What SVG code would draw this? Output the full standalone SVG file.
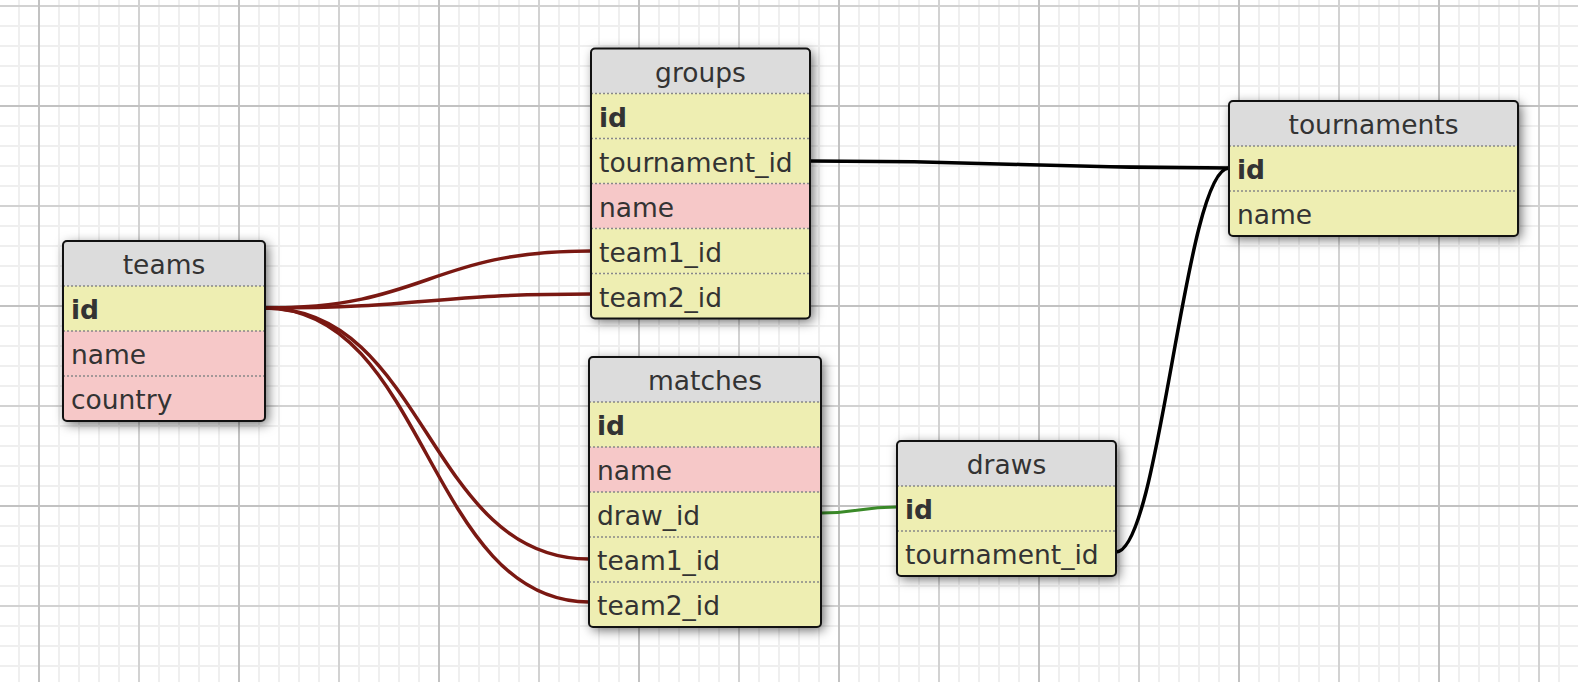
<svg xmlns="http://www.w3.org/2000/svg" width="1578" height="682" viewBox="0 0 1578 682">
<defs>
<pattern id="minor" x="18" y="5" width="20" height="20" patternUnits="userSpaceOnUse"><rect x="0" y="0" width="2" height="20" fill="#efefef"/><rect x="0" y="0" width="20" height="2" fill="#efefef"/></pattern>
<pattern id="major" x="38" y="5" width="100" height="100" patternUnits="userSpaceOnUse"><rect x="0" y="0" width="2" height="100" fill="#d2d2d2"/><rect x="0" y="0" width="100" height="2" fill="#d2d2d2"/></pattern>
<pattern id="extra" x="38" y="105" width="200" height="200" patternUnits="userSpaceOnUse"><rect x="0" y="0" width="2" height="200" fill="#c2c2c2"/><rect x="0" y="0" width="200" height="2" fill="#c2c2c2"/></pattern>
<filter id="shadow" x="-25%" y="-25%" width="150%" height="150%"><feDropShadow dx="3" dy="3" stdDeviation="6" flood-color="#000" flood-opacity="0.6"/></filter>
<clipPath id="c-teams"><rect width="202" height="180" rx="4"/></clipPath>
<clipPath id="c-groups"><rect width="219" height="270" rx="4"/></clipPath>
<clipPath id="c-matches"><rect width="232" height="270" rx="4"/></clipPath>
<clipPath id="c-draws"><rect width="219" height="135" rx="4"/></clipPath>
<clipPath id="c-tour"><rect width="289" height="135" rx="4"/></clipPath>
</defs>
<style>
.bg{fill:#fff}
.hd{fill:#dcdcdc}
.y{fill:#eeeeb2}
.p{fill:#f6c8c8}
.sep{stroke:#888;stroke-width:1.5;stroke-dasharray:2,2}
.frame{fill:none;stroke:#111;stroke-width:2}
.back{fill:#fff;filter:url(#shadow)}
text{font-family:"DejaVu Sans","Liberation Sans",sans-serif;font-size:26.5px;fill:#333}
.title{text-anchor:middle}
.pk{font-weight:bold}
.conn{fill:none;stroke-width:3.5}
.red{stroke:#7a1812}
.blk{stroke:#000}
.grn{stroke:#3a8a28;stroke-width:3}
</style>
<rect class="bg" width="1578" height="682"/>
<rect width="1578" height="682" fill="url(#minor)"/>
<rect width="1578" height="682" fill="url(#major)"/>
<rect width="1578" height="682" fill="url(#extra)"/>

<g id="connectors">
<path class="conn blk" d="M810 161 C1020 161 1020 168 1229 168"/>
<path class="conn blk" d="M1116 552 C1160 552 1185 168 1229 168"/>
<path class="conn grn" d="M821 513 C859 513 859 507 897 507"/>
<path class="conn red" d="M265 308 C428 308 428 251 591 251"/>
<path class="conn red" d="M265 308 C428 308 428 294 591 294"/>
<path class="conn red" d="M265 308 C427 308 427 559 589 559"/>
<path class="conn red" d="M265 308 C427 308 427 602 589 602"/>
</g>

<g id="teams" transform="translate(63,241)">
<rect class="back" width="202" height="180" rx="4"/>
<g clip-path="url(#c-teams)">
<rect class="hd" width="202" height="45"/>
<rect class="y" y="45" width="202" height="45"/>
<rect class="p" y="90" width="202" height="45"/>
<rect class="p" y="135" width="202" height="45"/>
<path class="sep" d="M0 45H202M0 90H202M0 135H202"/>
</g>
<rect class="frame" width="202" height="180" rx="4"/>
<text class="title" x="101" y="33">teams</text>
<text class="pk" x="8" y="78">id</text>
<text x="8" y="123">name</text>
<text x="8" y="168">country</text>
</g>

<g id="groups" transform="translate(591,48.5)">
<rect class="back" width="219" height="270" rx="4"/>
<g clip-path="url(#c-groups)">
<rect class="hd" width="219" height="45"/>
<rect class="y" y="45" width="219" height="45"/>
<rect class="y" y="90" width="219" height="45"/>
<rect class="p" y="135" width="219" height="45"/>
<rect class="y" y="180" width="219" height="45"/>
<rect class="y" y="225" width="219" height="45"/>
<path class="sep" d="M0 45H219M0 90H219M0 135H219M0 180H219M0 225H219"/>
</g>
<rect class="frame" width="219" height="270" rx="4"/>
<text class="title" x="109.5" y="33">groups</text>
<text class="pk" x="8" y="78">id</text>
<text x="8" y="123">tournament_id</text>
<text x="8" y="168">name</text>
<text x="8" y="213">team1_id</text>
<text x="8" y="258">team2_id</text>
</g>

<g id="matches" transform="translate(589,357)">
<rect class="back" width="232" height="270" rx="4"/>
<g clip-path="url(#c-matches)">
<rect class="hd" width="232" height="45"/>
<rect class="y" y="45" width="232" height="45"/>
<rect class="p" y="90" width="232" height="45"/>
<rect class="y" y="135" width="232" height="45"/>
<rect class="y" y="180" width="232" height="45"/>
<rect class="y" y="225" width="232" height="45"/>
<path class="sep" d="M0 45H232M0 90H232M0 135H232M0 180H232M0 225H232"/>
</g>
<rect class="frame" width="232" height="270" rx="4"/>
<text class="title" x="116" y="33">matches</text>
<text class="pk" x="8" y="78">id</text>
<text x="8" y="123">name</text>
<text x="8" y="168">draw_id</text>
<text x="8" y="213">team1_id</text>
<text x="8" y="258">team2_id</text>
</g>

<g id="draws" transform="translate(897,441)">
<rect class="back" width="219" height="135" rx="4"/>
<g clip-path="url(#c-draws)">
<rect class="hd" width="219" height="45"/>
<rect class="y" y="45" width="219" height="45"/>
<rect class="y" y="90" width="219" height="45"/>
<path class="sep" d="M0 45H219M0 90H219"/>
</g>
<rect class="frame" width="219" height="135" rx="4"/>
<text class="title" x="109.5" y="33">draws</text>
<text class="pk" x="8" y="78">id</text>
<text x="8" y="123">tournament_id</text>
</g>

<g id="tournaments" transform="translate(1229,101)">
<rect class="back" width="289" height="135" rx="4"/>
<g clip-path="url(#c-tour)">
<rect class="hd" width="289" height="45"/>
<rect class="y" y="45" width="289" height="45"/>
<rect class="y" y="90" width="289" height="45"/>
<path class="sep" d="M0 45H289M0 90H289"/>
</g>
<rect class="frame" width="289" height="135" rx="4"/>
<text class="title" x="144.5" y="33">tournaments</text>
<text class="pk" x="8" y="78">id</text>
<text x="8" y="123">name</text>
</g>
</svg>
